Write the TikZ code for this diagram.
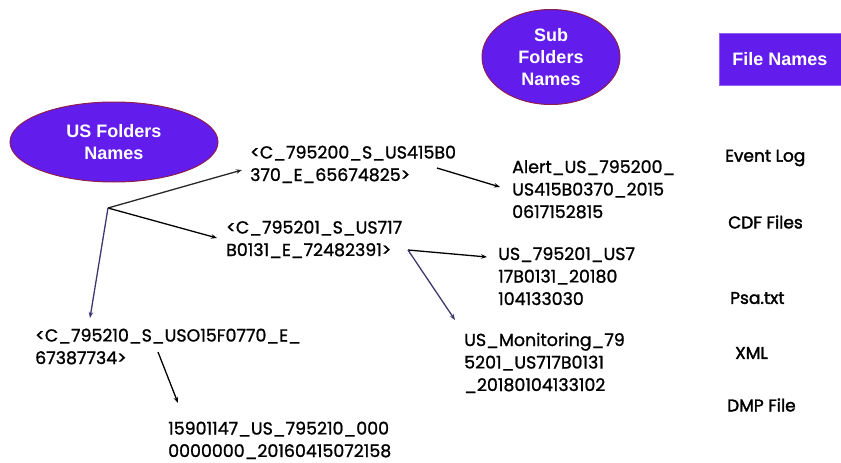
\documentclass[tikz,border=0pt]{standalone}
\usepackage{fontspec}
\setmainfont[FakeBold=1.2]{Poppins}
\newfontfamily\labfont{Liberation Sans}
\newfontfamily\semibfont[FakeBold=2]{Poppins}
\usetikzlibrary{arrows.meta,shapes.geometric}
\definecolor{violetfill}{RGB}{98,28,235}
\definecolor{maroonline}{RGB}{140,30,80}
\definecolor{slateline}{RGB}{62,56,112}
\definecolor{darkline}{RGB}{40,40,40}
\tikzset{
  ellipsebox/.style={ellipse, fill=violetfill, draw=maroonline, line width=1pt,
    text=white, font=\labfont\bfseries\fontsize{18}{22}\selectfont, align=center, inner sep=0pt},
  rectbox/.style={rectangle, fill=violetfill, draw=violetfill!70!white, line width=0.6pt,
    text=white, font=\labfont\bfseries\fontsize{18}{22}\selectfont, inner sep=0pt},
  nametext/.style={font=\fontsize{17.4}{22.5}\selectfont, align=left, inner sep=0pt, anchor=base west},
  filetext/.style={font=\semibfont\fontsize{17}{22}\selectfont, inner sep=0pt, anchor=west},
  arr/.style={-{Stealth[length=6pt,width=4.5pt]}, line width=1.3pt},
}
\begin{document}
\begin{tikzpicture}[x=1pt,y=-1pt]
\useasboundingbox (0,0) rectangle (841,463);

% headings
\node[ellipsebox, minimum width=208pt, minimum height=80pt] (us) at (114,142) {US Folders\\Names};
\node[ellipsebox, minimum width=138pt, minimum height=95pt] (sub) at (551,57) {Sub\\Folders\\Names};
\node[rectbox, minimum width=122pt, minimum height=52pt] (fn) at (780,59) {File Names};

% folder names (position = baseline of the last line)
\node[nametext] (n1) at (250,181) {<C\_795200\_S\_US415B0\\370\_E\_65674825>};
\node[nametext] (n2) at (226,256) {<C\_795201\_S\_US717\\B0131\_E\_72482391>};
\node[nametext] (n3) at (35,364) {<C\_795210\_S\_USO15F0770\_E\_\\67387734>};
\node[nametext] (n4) at (168,457) {15901147\_US\_795210\_000\\0000000\_20160415072158};
\node[nametext] (a1) at (512,218) {Alert\_US\_795200\_\\US415B0370\_2015\\0617152815};
\node[nametext] (a2) at (498,305) {US\_795201\_US7\\17B0131\_20180\\104133030};
\node[nametext] (a3) at (464,391) {US\_Monitoring\_79\\5201\_US717B0131\\\_20180104133102};

% file names column
\node[filetext] (ev) at (725,158) {Event Log};
\node[filetext] (cdf) at (728,222) {CDF Files};
\node[filetext] (psa) at (730,298) {Psa.txt};
\node[filetext] (xml) at (735,353) {XML};
\node[filetext] (dmp) at (727,405) {DMP File};

% connector points
\coordinate (b1) at (108,208);
\coordinate (t1) at (242,170);
\coordinate (t2) at (217,238);
\coordinate (t3) at (90,318);
\coordinate (b2) at (408,250);
\coordinate (t4) at (487,257);
\coordinate (t5) at (455,320);
\coordinate (c1) at (437,168);
\coordinate (t6) at (500,187);
\coordinate (c2) at (158,352);
\coordinate (t7) at (178,403);

\draw[arr, darkline] (b1) -- (t1);
\draw[arr, black] (b1) -- (t2);
\draw[arr, slateline] (b1) -- (t3);
\draw[arr, black] (b2) -- (t4);
\draw[arr, slateline] (b2) -- (t5);
\draw[arr, black] (c1) -- (t6);
\draw[arr, black] (c2) -- (t7);
\end{tikzpicture}
\end{document}
